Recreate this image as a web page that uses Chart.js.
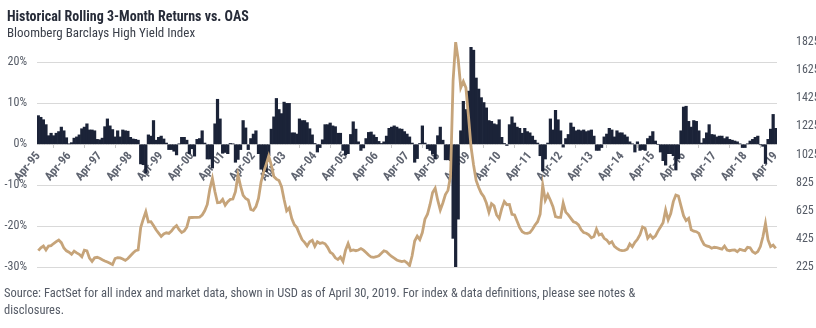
<!DOCTYPE html>
<html>
<head>
<meta charset="utf-8">
<script src="https://cdn.jsdelivr.net/npm/chart.js@4.4.1/dist/chart.umd.min.js"></script>
<style>
  body { margin: 0; width: 816px; height: 328px; background: #fff; overflow: hidden; position: relative;
         font-family: 'Roboto Condensed', 'Liberation Sans Narrow', 'DejaVu Sans Condensed', 'Arial Narrow', sans-serif; }
  #title { position: absolute; left: 7px; top: 8px; font-size: 14px; font-weight: bold; color: #262b38; white-space: nowrap; }
  #sub { position: absolute; left: 7px; top: 25px; font-size: 13px; color: #3a3f4a; white-space: nowrap; }
  #foot { position: absolute; left: 4px; top: 284px; font-size: 12.5px; line-height: 17px; color: #555b66; white-space: nowrap; }
  #wrap { position: absolute; left: 0; top: 0; width: 816px; height: 328px; }
</style>
</head>
<body>
<div id="wrap"><canvas id="chart"></canvas></div>
<div id="title">Historical Rolling 3-Month Returns vs. OAS</div>
<div id="sub">Bloomberg Barclays High Yield Index</div>
<div id="foot">Source: FactSet for all index and market data, shown in USD as of April 30, 2019. For index &amp; data definitions, please see notes &amp;<br>disclosures.</div>
<script>
const FONT = "'Roboto Condensed', 'Liberation Sans Narrow', 'DejaVu Sans Condensed', 'Arial Narrow', sans-serif";

// monthly, Apr-95 .. Apr-19
const monthNames = ['Apr', 'May', 'Jun', 'Jul', 'Aug', 'Sep', 'Oct', 'Nov', 'Dec', 'Jan', 'Feb', 'Mar'];
const firstYear = 1995;
const lastYear = 2019;

// rolling 3-month total return, %
const returns = [
  7.0, 6.6, 6.0, 4.8, 2.1, 2.7, 2.1, 2.7, 3.1, 4.2, 3.3, 1.6,
  0.1, 0.4, 1.5, 1.8, 2.3, 3.8, 4.2, 5.0, 3.5, 3.5, 3.3, 1.2,
  1.1, 1.5, 4.3, 6.2, 4.5, 3.6, 1.8, 3.3, 1.8, 3.5, 3.3, 3.2,
  1.7, 1.3, 1.2, 1.0, -4.8, -5.0, -7.0, 2.3, 2.0, 5.8, 1.0, 1.7,
  2.0, 1.3, 0.3, -1.3, -1.3, -1.7, -2.6, 0.1, 1.7, 1.7, 1.0, -2.3,
  -1.1, -2.9, 1.2, 1.4, 3.3, 0.3, -3.6, -3.6, -5.8, 5.0, 11.0, 6.2,
  -2.2, -2.0, -2.3, 0.2, 0.1, -4.4, -3.7, -1.3, 5.8, 4.0, -1.3, 1.4,
  2.5, 3.3, -2.3, -6.1, -6.7, -6.7, -2.8, 3.7, 6.7, 11.2, 8.5, 7.5,
  10.3, 10.0, 10.0, 2.8, 2.8, 2.5, 6.2, 5.8, 5.8, 5.3, 3.8, 2.3,
  0.2, -1.9, -0.8, 1.1, 4.8, 4.8, 5.2, 4.5, 4.3, 2.7, 2.7, -1.5,
  -2.6, -2.3, 2.4, 5.5, 3.7, 0.6, -1.5, -0.9, 1.4, 2.9, 3.0, 2.3,
  1.7, 0.7, 0.2, 0.6, 2.0, 3.9, 4.2, 4.5, 4.2, 3.8, 3.7, 3.1,
  2.5, 1.8, 0.3, -4.4, -3.5, 0.2, 4.5, 0.3, -1.1, -1.5, -2.3, -3.6,
  2.1, 4.2, 1.0, -3.8, -3.8, -4.0, -23.0, -30.5, -18.3, 3.3, 10.5, 8.5,
  13.0, 23.7, 23.0, 16.2, 13.5, 11.4, 10.2, 8.9, 5.8, 5.6, 5.0, 4.8,
  6.0, 1.7, 0.2, -0.3, 4.8, 6.7, 5.2, 4.2, 3.9, 2.7, 3.9, 3.1,
  2.8, 2.0, 1.0, 0.3, -2.8, -6.5, -3.6, 0.3, 6.2, 3.5, 8.3, 6.0,
  3.3, -0.7, 1.4, 2.4, 5.2, 4.2, 3.3, 3.5, 3.3, 3.5, 3.1, 3.3,
  3.5, 2.0, -1.5, -1.5, -0.8, 1.8, 2.5, 3.9, 3.5, 1.8, 3.3, 2.8,
  2.8, 2.3, 1.8, 0.6, 0.1, -1.9, 0.6, -1.5, -1.3, -1.5, 1.4, 2.0,
  3.1, 0.8, 0.0, -1.9, -4.0, -5.1, -2.3, -2.3, -2.8, -6.3, -3.6, 3.3,
  9.1, 9.3, 5.6, 4.2, 5.8, 5.6, 3.3, 0.3, 1.4, 2.8, 4.8, 2.4,
  2.3, 1.8, 2.0, 2.0, 1.4, 1.8, 1.2, 1.0, 0.8, 0.6, 0.1, -0.8,
  -0.8, 0.1, 0.8, 1.2, 1.7, 2.0, -0.1, -0.5, -4.7, 1.2, 3.7, 7.3,
  3.9
];

// option-adjusted spread, bps
const oas = [
  341, 362, 374, 346, 374, 377, 392, 405, 417, 398, 360, 340,
  330, 315, 338, 325, 315, 298, 345, 340, 288, 265, 290, 294,
  287, 277, 268, 260, 252, 242, 285, 292, 290, 282, 272, 285,
  305, 325, 341, 346, 505, 565, 618, 545, 547, 520, 490, 466,
  442, 460, 468, 464, 480, 505, 520, 490, 470, 482, 508, 576,
  577, 578, 578, 580, 595, 625, 670, 780, 855, 760, 682, 684,
  706, 665, 690, 706, 708, 760, 879, 800, 735, 712, 702, 635,
  628, 654, 713, 830, 900, 955, 1014, 950, 868, 850, 840, 796,
  705, 625, 645, 570, 525, 505, 460, 420, 400, 375, 405, 415,
  372, 405, 393, 398, 390, 365, 330, 318, 290, 278, 296, 265,
  345, 392, 340, 346, 341, 346, 356, 345, 328, 310, 296, 294,
  298, 305, 322, 340, 334, 316, 300, 288, 275, 268, 263, 268,
  255, 235, 305, 410, 445, 420, 470, 565, 600, 670, 755, 785,
  700, 630, 680, 740, 770, 870, 1550, 1825, 1700, 1500, 1545, 1500,
  1300, 1080, 950, 840, 790, 750, 725, 680, 615, 675, 660, 595,
  570, 640, 690, 668, 670, 600, 595, 550, 505, 476, 466, 464,
  470, 493, 524, 547, 600, 808, 700, 740, 700, 654, 583, 578,
  578, 680, 615, 596, 571, 547, 540, 524, 490, 470, 465, 453,
  432, 441, 495, 453, 460, 429, 417, 393, 405, 372, 358, 346,
  341, 343, 351, 389, 370, 400, 422, 455, 510, 500, 430, 453,
  430, 445, 480, 510, 540, 630, 560, 605, 690, 737, 730, 660,
  590, 555, 571, 490, 480, 476, 464, 420, 385, 375, 370, 358,
  365, 362, 358, 352, 374, 346, 341, 345, 346, 334, 351, 345,
  341, 365, 362, 334, 322, 335, 370, 440, 535, 417, 370, 381,
  358
];

const labels = [];
for (let y = firstYear; y <= lastYear; y++) {
  monthNames.forEach((m, k) => {
    const yr = k < 9 ? y : y + 1;
    if (labels.length < returns.length) labels.push(m + '-' + String(yr).slice(2));
  });
}

const leftTicks = [-30, -20, -10, 0, 10, 20];
const rightTicks = [225, 425, 625, 825, 1025, 1225, 1425, 1625, 1825];

new Chart(document.getElementById('chart'), {
  data: {
    labels: labels,
    datasets: [
      {
        type: 'line',
        label: 'OAS',
        data: oas,
        yAxisID: 'y2',
        borderColor: '#c6a47a',
        borderWidth: 2.8,
        pointRadius: 0,
        tension: 0,
        order: 0
      },
      {
        type: 'bar',
        label: 'Rolling 3-Month Return',
        data: returns,
        yAxisID: 'y',
        backgroundColor: '#1b2338',
        borderWidth: 0,
        barPercentage: 1,
        categoryPercentage: 1,
        order: 1
      }
    ]
  },
  options: {
    responsive: true,
    maintainAspectRatio: false,
    animation: false,
    layout: { padding: { top: 42, bottom: 61, left: 0, right: 0 } },
    plugins: { legend: { display: false }, tooltip: { enabled: false } },
    scales: {
      x: {
        type: 'category',
        position: { y: 0 },
        offset: true,
        grid: { drawOnChartArea: false, drawTicks: true, tickLength: 4, color: '#c8c8c8', offset: true },
        border: { display: false },
        afterBuildTicks: (scale) => { scale.ticks = scale.ticks.filter(t => t.value % 12 === 0); },
        ticks: {
          autoSkip: false,
          minRotation: 50,
          maxRotation: 50,
          padding: 1,
          color: '#5f6470',
          font: { family: FONT, size: 12, weight: 'bold' }
        }
      },
      y: {
        position: 'left',
        min: -30,
        max: 25,
        afterBuildTicks: (scale) => { scale.ticks = leftTicks.map(v => ({ value: v })); },
        afterFit: (scale) => { scale.width = 37; },
        grid: { color: '#d9d9d9', lineWidth: 1, drawTicks: false },
        border: { display: false },
        ticks: {
          padding: 10,
          color: '#555b66',
          font: { family: FONT, size: 12 },
          callback: (v) => v + '%'
        }
      },
      y2: {
        position: 'right',
        min: 225,
        max: 1825,
        afterBuildTicks: (scale) => { scale.ticks = rightTicks.map(v => ({ value: v })); },
        afterFit: (scale) => { scale.width = 39; },
        grid: { display: false },
        border: { display: false },
        ticks: {
          padding: 11,
          color: '#555b66',
          font: { family: FONT, size: 12 },
          callback: (v) => String(v)
        }
      }
    }
  }
});
</script>
</body>
</html>
